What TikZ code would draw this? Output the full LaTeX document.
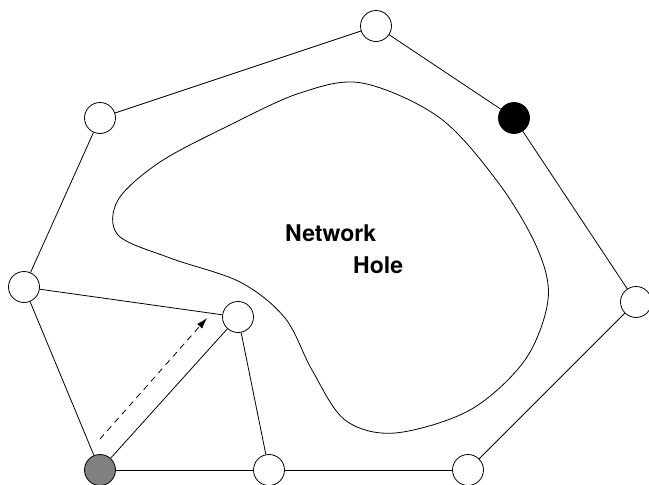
\documentclass[tikz,border=0pt]{standalone}
\usepackage{fontspec}
\setmainfont{TeX Gyre Heros}
\usetikzlibrary{arrows.meta}
\begin{document}
\begin{tikzpicture}[x=1pt,y=-1pt,
  sensor/.style={circle,draw,line width=0.8pt,fill=white,minimum size=31pt,inner sep=0pt},
  link/.style={line width=0.8pt},
  lbl/.style={font=\bfseries\fontsize{23}{27}\selectfont,inner sep=0pt,anchor=base west}]
\useasboundingbox (0,0) rectangle (649,485);
% hole
\draw[line width=0.8pt] plot[smooth cycle,tension=0.55] coordinates {
 (362,83) (440,118) (500,185) (538,250) (548,300) (525,360) (470,410) (395,433)
 (345,420) (312,370) (285,318) (240,282) (170,258) (118,235) (118,200)
 (160,162) (230,125) (300,93)};
% nodes
\node[sensor] (top) at (376,26) {};
\node[sensor,fill=black] (blk) at (514,118) {};
\node[sensor] (rt) at (636,302) {};
\node[sensor] (br) at (468,470) {};
\node[sensor] (bm) at (269,470) {};
\node[sensor,fill=black!50] (gr) at (100,470) {};
\node[sensor] (lf) at (24,287) {};
\node[sensor] (ul) at (100,118) {};
\node[sensor] (in) at (238,317) {};
% links
\draw[link] (top) -- (ul);
\draw[link] (top) -- (blk);
\draw[link] (blk) -- (rt);
\draw[link] (rt) -- (br);
\draw[link] (br) -- (bm);
\draw[link] (bm) -- (gr);
\draw[link] (gr) -- (lf);
\draw[link] (lf) -- (ul);
\draw[link] (lf) -- (in);
\draw[link] (in) -- (gr);
\draw[link] (in) -- (bm);
% dashed arrow
\coordinate (da) at (100,439);
\coordinate (db) at (207,318);
\draw[line width=0.8pt,dash pattern=on 6pt off 5pt,-{Latex[length=11pt,width=7pt]}] (da) -- (db);
% labels
\node[lbl] (t1) at (285,241) {Network};
\node[lbl] (t2) at (353,273) {Hole};
\end{tikzpicture}
\end{document}
